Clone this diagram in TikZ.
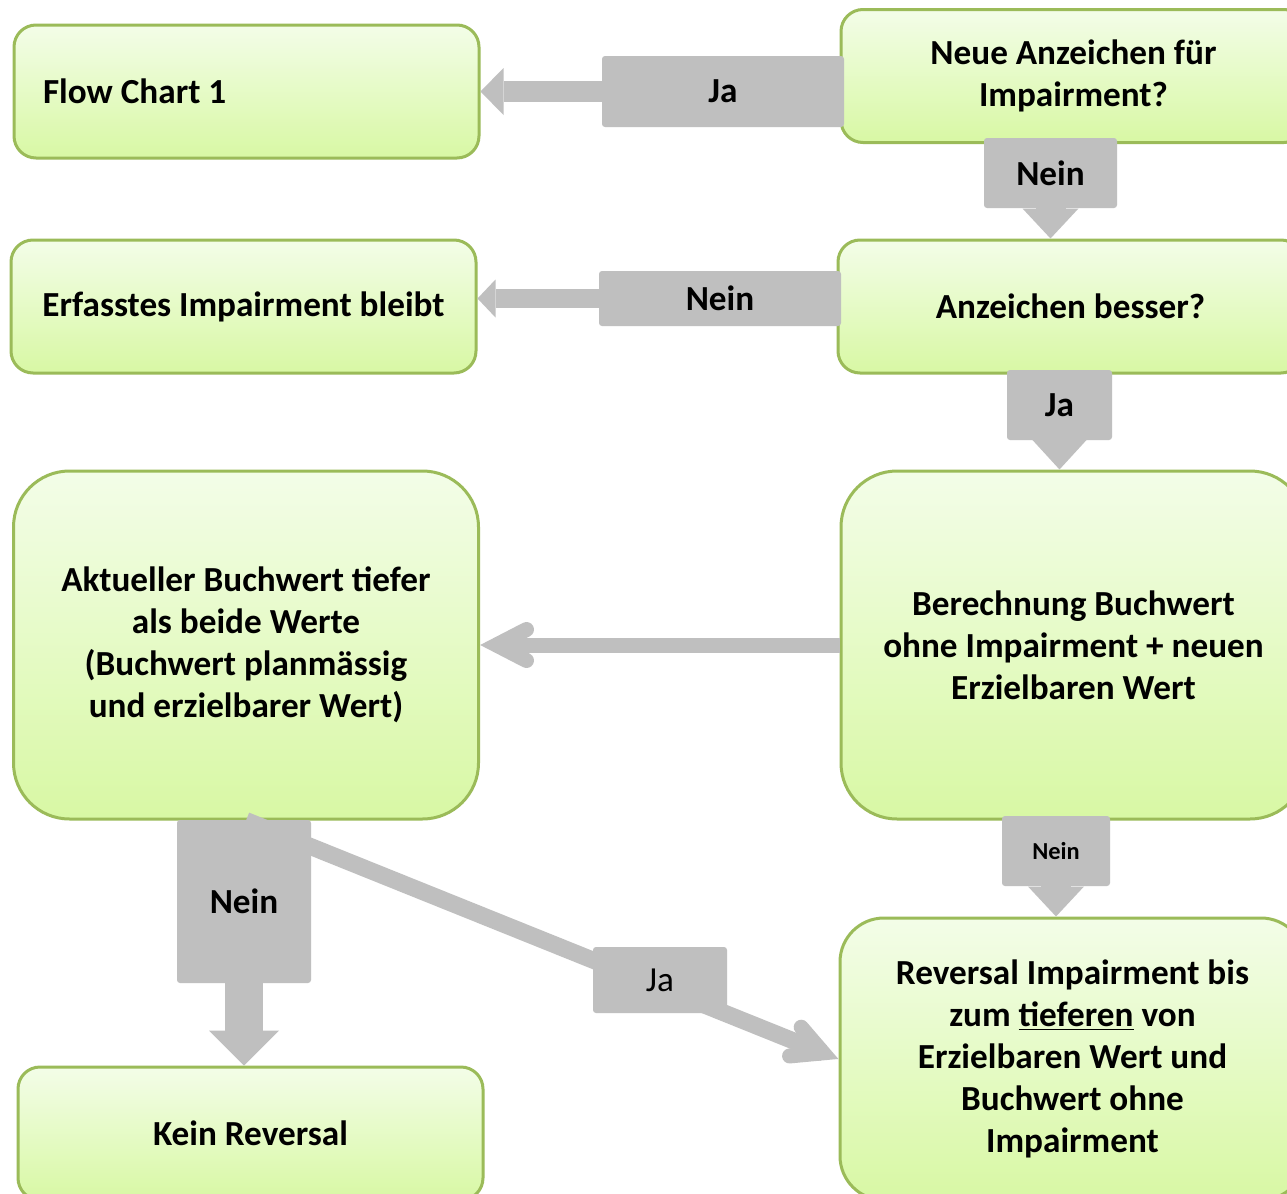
\documentclass[tikz,border=0pt]{standalone}
\usepackage{fontspec}
\setmainfont{Carlito}
\usetikzlibrary{arrows.meta,calc}

\definecolor{boxtop}{HTML}{F3FDE8}
\definecolor{boxbottom}{HTML}{D8F8A4}
\definecolor{boxborder}{HTML}{9BBB59}
\definecolor{labelgrey}{HTML}{BFBFBF}

\tikzset{
  greenbox/.style={rectangle, rounded corners=11pt, draw=boxborder, line width=1.5pt,
    top color=boxtop, bottom color=boxbottom, align=center,
    font=\bfseries\fontsize{17.6}{21}\selectfont,
    minimum width=232.5pt, minimum height=66.5pt},
  tallbox/.style={greenbox, minimum height=174pt, rounded corners=28pt},
  greylabel/.style={rectangle, rounded corners=1.5pt, fill=labelgrey, inner sep=0pt,
    font=\bfseries\fontsize{17.6}{21}\selectfont},
  fatarrow/.style n args={3}{draw=labelgrey, line width=#1,
    -{Triangle[width=#2, length=#3, line width=0pt]}},
  thinarrow/.style={draw=labelgrey, line width=#1},
  chevron/.style={draw=labelgrey, line width=7.5pt, line cap=round, line join=miter}
}

\begin{document}
\begin{tikzpicture}[x=0.5pt, y=-0.5pt]
  % frame
  \useasboundingbox (0,0) rectangle (1287,1194);
  \clip (0,0) rectangle (1287,1194);
  \fill[white] (0,0) rectangle (1287,1194);

  % boxes
  \node[greenbox, text width=203.5pt, inner xsep=14.5pt, align=flush left] (fc1) at (246.5,91.5) {Flow Chart 1};
  \node[greenbox] (neu) at (1073.5,76) {Neue Anzeichen für\\Impairment?};
  \node[greenbox] (erf) at (243.5,306.5) {Erfasstes Impairment bleibt};
  \node[greenbox] (anz) at (1070.5,306.5) {Anzeichen besser?};
  \node[tallbox] (akt) at (246,645) {Aktueller Buchwert tiefer\\als beide Werte\\(Buchwert planmässig\\und erzielbarer Wert)};
  \node[tallbox] (ber) at (1073.5,645) {Berechnung Buchwert\\ohne Impairment + neuen\\Erzielbaren Wert};
  \node[greenbox] (kein) at (250.5,1133.5) {Kein Reversal};
  \node[greenbox, minimum height=141pt, rounded corners=22pt] (rev) at (1072.5,1059)
    {Reversal Impairment bis\\zum \underline{tieferen} von\\Erzielbaren Wert und\\Buchwert ohne\\Impairment};

  % callouts
  \node[greylabel, minimum width=121pt, minimum height=35.5pt] (jaA) at (723,91.5) {Ja};
  \draw[fatarrow={10.5pt}{23.5pt}{11.5pt}] (jaA.west) -- (fc1.east);

  \node[greylabel, minimum width=121pt, minimum height=27.5pt] (neinA) at (720,298.5) {Nein};
  \draw[fatarrow={9.5pt}{19pt}{9pt}] (neinA.west) -- (neinA.west -| erf.east);

  \node[greylabel, minimum width=66.5pt, minimum height=35pt] (neinB) at (1050.5,173) {Nein};
  \draw[fatarrow={15pt}{28pt}{15pt}] (neinB.south) -- (neinB.south |- anz.north);

  \node[greylabel, minimum width=52.5pt, minimum height=35pt] (jaB) at (1059.5,405) {Ja};
  \draw[fatarrow={12.5pt}{27.5pt}{15pt}] (jaB.south) -- (jaB.south |- ber.north);

  \node[greylabel, minimum width=54pt, minimum height=35pt, font=\bfseries\fontsize{12.2}{14}\selectfont]
    (neinC) at (1056,851) {Nein};
  \draw[fatarrow={15pt}{28pt}{15pt}] (neinC.south) -- (neinC.south |- rev.north);

  % open arrows
  \draw[thinarrow=7.5pt, shorten >=8pt] (ber.west) -- (akt.east);
  \draw[chevron, shift={(akt.east)}, rotate=180] (-46.5,-15.5) -- (-16.5,0) -- (-46.5,15.5);

  \draw[thinarrow=8.5pt, shorten >=8pt] (akt.south) -- (rev.west);
  \draw[chevron, shift={(rev.west)}, rotate=-22] (-46.5,-15.5) -- (-16.5,0) -- (-46.5,15.5);

  \node[greylabel, minimum width=67pt, minimum height=33pt, font=\fontsize{17.6}{21}\selectfont]
    (jaC) at (660,980) {Ja};

  \node[greylabel, minimum width=67pt, minimum height=81.5pt] (neinD) at (244,901.5) {Nein};
  \draw[fatarrow={19pt}{35pt}{17.5pt}] (neinD.south) -- (neinD.south |- kein.north);
\end{tikzpicture}
\end{document}
